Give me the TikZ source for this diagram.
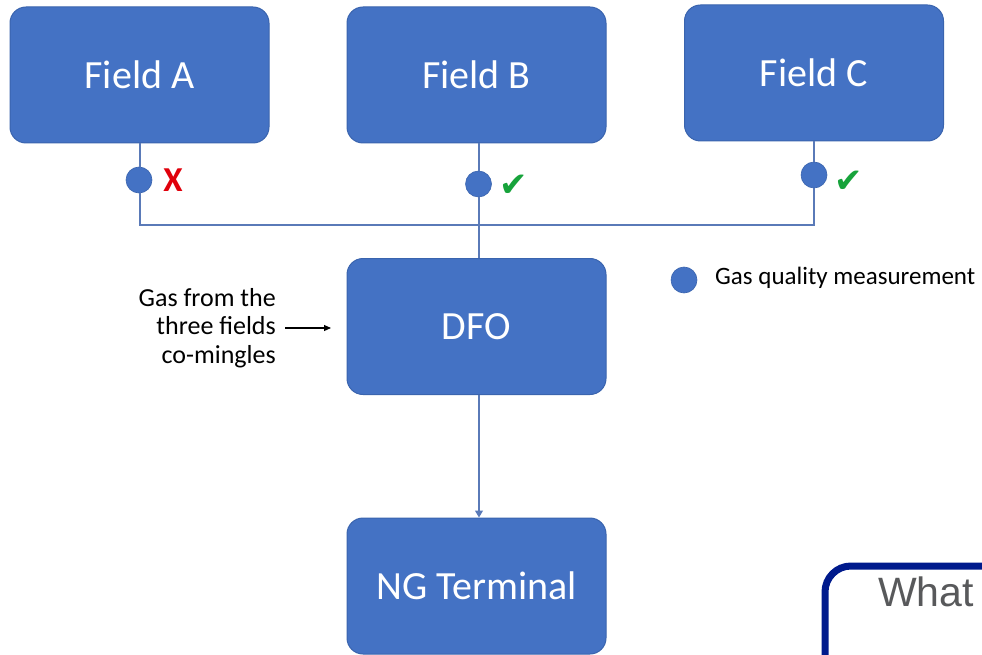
\documentclass[tikz,border=0pt]{standalone}
\usepackage{fontspec}
\setmainfont{Carlito}
\newfontfamily\dejavu{DejaVu Sans}
\newfontfamily\arialf{Liberation Sans}
\usetikzlibrary{arrows.meta}
\definecolor{boxblue}{HTML}{4472C4}
\definecolor{boxedge}{HTML}{3A64AE}
\definecolor{linec}{HTML}{5A7AB8}
\definecolor{okgreen}{HTML}{17A33B}
\definecolor{badred}{HTML}{E0000B}
\definecolor{navy}{HTML}{001A8C}
\definecolor{graytxt}{HTML}{58595B}
\tikzset{
  fieldbox/.style={draw=boxedge, line width=1pt, fill=boxblue, rounded corners=16pt,
    minimum width=259pt, minimum height=136pt, text=white, font=\fontsize{40}{46}\selectfont},
  meas/.style={circle, fill=boxblue, draw=boxedge, line width=0.6pt, minimum size=26pt, inner sep=0pt},
  conn/.style={draw=linec, line width=1.1pt},
  okmark/.style={text=okgreen, font=\dejavu\fontsize{34}{34}\selectfont, inner sep=0pt},
  badmark/.style={text=badred, font=\bfseries\fontsize{35}{35}\selectfont, inner sep=0pt},
  note/.style={font=\fontsize{26}{28.5}\selectfont, align=right, inner sep=0pt},
  legend/.style={font=\fontsize{25}{28}\selectfont, anchor=west, inner sep=0pt}
}
\begin{document}
\begin{tikzpicture}[x=1pt,y=-1pt]
\useasboundingbox (0,0) rectangle (982,655);
% boxes
\node[fieldbox] (fa) at (139.5,75) {Field A};
\node[fieldbox] (fb) at (476.5,75) {Field B};
\node[fieldbox] (fc) at (814,73) {Field C};
\node[fieldbox] (dfo) at (476.5,326.5) {DFO};
\node[fieldbox] (ng) at (476.5,586) {NG Terminal};
% measurement points
\node[meas] (ma) at (139,180) {};
\node[meas] (mb) at (478.5,184) {};
\node[meas] (mc) at (814,175) {};
\coordinate (busa) at (140,225);
\coordinate (busb) at (479,225);
\coordinate (busc) at (814,225);
% connectors
\draw[conn] (fa.south -| busa) -- (ma.north -| busa);
\draw[conn] (ma.south -| busa) -- (busa) -- (busc) -- (mc.south -| busc);
\draw[conn] (mc.north -| busc) -- (fc.south -| busc);
\draw[conn] (fb.south -| busb) -- (mb.north -| busb);
\draw[conn] (mb.south -| busb) -- (busb) -- (dfo.north -| busb);
\draw[conn, -{Triangle[width=8pt,length=7pt]}] (dfo.south -| busb) -- (ng.north -| busb);
% marks
\node[badmark] (xa) at (173,180) {X};
\node[okmark] (okb) at (514,186) {✔};
\node[okmark] (okc) at (849,182) {✔};
% note
\node[note, anchor=east] (gas) at (276,328) {Gas from the\\three fields\\co-mingles};
\coordinate (gasend) at (331,328);
\draw[line width=1.1pt, -{Triangle[width=6pt,length=7pt]}] (gas.east) ++(9,0) -- (gasend);
% legend
\node[meas] (lg) at (684,280) {};
\node[legend] (lgt) at (715,278) {Gas quality measurement};
% bottom right frame
\draw[navy, line width=7pt, rounded corners=26pt] (825,700) -- (825,566) -- (1010,566);
\node[font=\arialf\fontsize{41}{46}\selectfont, text=graytxt, anchor=west, inner sep=0pt] (what) at (878,592) {What};
\end{tikzpicture}
\end{document}
